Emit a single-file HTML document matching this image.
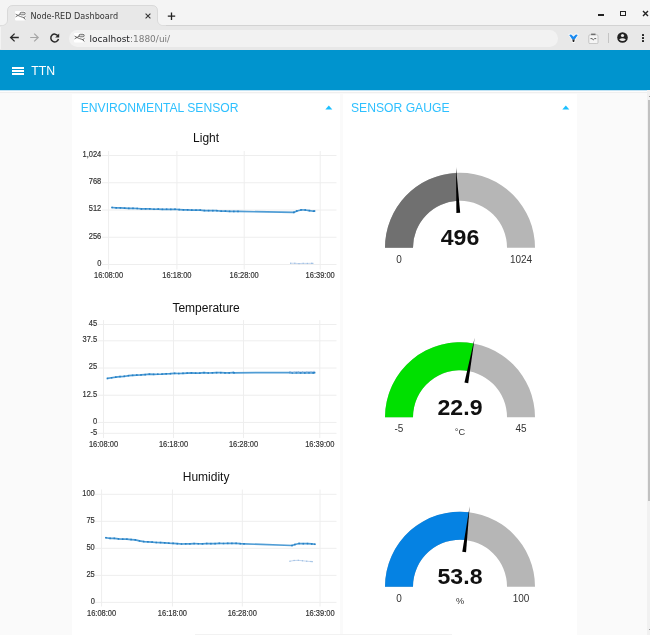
<!DOCTYPE html>
<html><head><meta charset="utf-8"><title>Node-RED Dashboard</title>
<style>
*{margin:0;padding:0;box-sizing:border-box}
html,body{width:650px;height:635px;overflow:hidden}
body{will-change:transform;background:#fafafa;font-family:"Liberation Sans",Arial,sans-serif;position:relative}
.a{position:absolute}
.dv{font-family:"DejaVu Sans","Liberation Sans",sans-serif}
</style></head><body>
<!-- tab strip -->
<div class="a" style="left:0;top:0;width:650px;height:25px;background:#f4f4f4"></div>
<div class="a" style="left:0;top:25px;width:650px;height:1px;background:#d3d3d3"></div>
<!-- toolbar -->
<div class="a" style="left:0;top:26px;width:650px;height:24px;background:#e8e8e8"></div>
<div class="a" style="left:0;top:26px;width:1px;height:23px;background:#f3f3f3"></div>
<!-- tab -->
<svg class="a" style="left:0;top:0" width="170" height="27" viewBox="0 0 170 27">
<path d="M0 26 C4 26 7.5 24 7.5 20 V11 Q7.5 5.5 13 5.5 H152 Q157.5 5.5 157.5 11 V20 C157.5 24 161 26 165 26" fill="#e8e8e8" stroke="#d3d3d3" stroke-width="0.8"/>
<path d="M0 25.6 H166 V27 H0Z" fill="#e8e8e8"/>
</svg>
<svg class="a" style="left:14.6px;top:11px" width="11" height="10" viewBox="0 0 11 10"><rect x="0" y="0" width="10.4" height="9.6" rx="1" fill="#fff"/><rect x="5" y="1.3" width="5.2" height="2.5" rx="1.25" fill="#d8d8d8" stroke="#6a6a6a" stroke-width="0.85"/><path d="M0.9 3.3 L3 4.4 L0.9 5.7 M3 4.4 Q4.3 4.3 5.1 3 M3.2 4.6 Q5.5 5.8 8.8 6.6 M8.8 6.6 L10.2 5.6 M8.8 6.6 L10 8.2" stroke="#6a6a6a" stroke-width="0.9" fill="none" stroke-linecap="round"/></svg>
<div class="a dv" style="left:30.4px;top:10.6px;font-size:8.12px;line-height:10px;color:#333;white-space:nowrap">Node-RED Dashboard</div>
<svg class="a" style="left:144px;top:12px" width="8" height="8" viewBox="0 0 8 8"><path d="M1.6 1.6 L6.4 6.4 M6.4 1.6 L1.6 6.4" stroke="#333" stroke-width="1.1"/></svg>
<svg class="a" style="left:167px;top:12px" width="9" height="9" viewBox="0 0 9 9"><path d="M4.5 0.5 V8 M0.8 4.2 H8.2" stroke="#222" stroke-width="1.3"/></svg>
<!-- window controls -->
<div class="a" style="left:598px;top:14.2px;width:6px;height:1.7px;background:#222"></div>
<div class="a" style="left:620px;top:10.5px;width:6.3px;height:5.6px;border:1.7px solid #222"></div>
<svg class="a" style="left:641.5px;top:10.3px" width="7" height="7" viewBox="0 0 7 7"><path d="M1 1 L6 6 M6 1 L1 6" stroke="#222" stroke-width="1.4"/></svg>
<!-- nav icons -->
<svg class="a" style="left:9px;top:32px" width="12" height="11" viewBox="0 0 12 11"><path d="M9.8 5.5 H2 M5.6 1.6 L1.6 5.5 L5.6 9.4" stroke="#2a2a2a" stroke-width="1.3" fill="none"/></svg>
<svg class="a" style="left:29px;top:32px" width="12" height="11" viewBox="0 0 12 11"><path d="M1.2 5.5 H9 M5.2 1.6 L9.2 5.5 L5.2 9.4" stroke="#a5a5a5" stroke-width="1.2" fill="none"/></svg>
<svg class="a" style="left:49px;top:32px" width="12" height="12" viewBox="0 0 12 12"><path d="M9 3.9 A3.9 3.9 0 1 0 9.5 7" stroke="#2a2a2a" stroke-width="1.5" fill="none"/><path d="M10.2 1.4 V5.4 H6.2 Z" fill="#2a2a2a"/></svg>
<!-- address bar -->
<div class="a" style="left:68.5px;top:29.5px;width:489px;height:17.3px;border-radius:9px;background:#f2f2f2"></div>
<svg class="a" style="left:74.4px;top:33.4px" width="11" height="10" viewBox="0 0 11 10"><rect x="0" y="0" width="10.4" height="9.6" rx="1" fill="#fff"/><rect x="5" y="1.3" width="5.2" height="2.5" rx="1.25" fill="#d8d8d8" stroke="#5a5a5a" stroke-width="0.85"/><path d="M0.9 3.3 L3 4.4 L0.9 5.7 M3 4.4 Q4.3 4.3 5.1 3 M3.2 4.6 Q5.5 5.8 8.8 6.6 M8.8 6.6 L10.2 5.6 M8.8 6.6 L10 8.2" stroke="#5a5a5a" stroke-width="0.9" fill="none" stroke-linecap="round"/></svg>
<div class="a dv" style="left:89.5px;top:33.9px;font-size:9px;line-height:11px;white-space:nowrap;color:#202124">localhost<span style="color:#7a7a7a">:1880/ui/</span></div>
<!-- right toolbar icons -->
<svg class="a" style="left:567.5px;top:33px" width="11" height="10" viewBox="0 0 11 10"><path d="M0.8 1.6 Q2 0.6 3.6 1.2 L5.5 3 L7.4 1.2 Q9 0.6 10.2 1.6 L6.9 6.8 L6.6 9.3 L4.4 9.3 L4.1 6.8 Z" fill="#fff" stroke="#fff" stroke-width="1" stroke-linejoin="round"/><path d="M1.2 1.9 Q2.2 1.1 3.5 1.7 L5.5 3.7 L7.5 1.7 Q8.8 1.1 9.8 1.9 L6.7 6.6 L4.3 6.6 Z" fill="#1a8af0"/><path d="M4.3 6.4 L6.7 6.4 L6.2 8.9 L4.8 8.9 Z" fill="#262626"/></svg>
<svg class="a" style="left:587.6px;top:32.5px" width="11" height="11" viewBox="0 0 11 11"><rect x="0.8" y="1.8" width="9.2" height="8.8" rx="1.2" fill="#f5f5f5" stroke="#b9b9b9" stroke-width="0.8"/><rect x="3.1" y="0.6" width="4.4" height="1.5" fill="#6e6e6e"/><path d="M2.5 5.6 H4 L5.3 6.8 L6.6 5.6 H8.2" stroke="#5e5e5e" stroke-width="1" fill="none"/></svg>
<div class="a" style="left:608px;top:33px;width:1px;height:10px;background:#c4c4c4"></div>
<svg class="a" style="left:617px;top:32.3px" width="11" height="11" viewBox="0 0 11 11"><circle cx="5.5" cy="5.5" r="5.3" fill="#222"/><circle cx="5.5" cy="3.5" r="1.6" fill="#e8e8e8"/><path d="M2.1 7.4 Q5.5 4.9 8.9 7.4 Q5.5 10.4 2.1 7.4Z" fill="#e8e8e8"/></svg>
<div class="a" style="left:641.8px;top:33.9px;width:1.9px;height:1.9px;background:#222;border-radius:0.5px"></div>
<div class="a" style="left:641.8px;top:36.8px;width:1.9px;height:1.9px;background:#222;border-radius:0.5px"></div>
<div class="a" style="left:641.8px;top:40.1px;width:1.9px;height:1.9px;background:#222;border-radius:0.5px"></div>
<!-- header -->
<div class="a" style="left:0;top:50px;width:650px;height:40px;background:#0094ce"></div>
<div class="a" style="left:0;top:89.8px;width:650px;height:1.2px;background:#bfe2f4"></div>
<div class="a" style="left:0;top:91px;width:650px;height:1px;background:#fdfdfd"></div>
<div class="a" style="left:0;top:92px;width:650px;height:1px;background:#efefef"></div>
<div class="a" style="left:12.4px;top:67.2px;width:11.3px;height:1.5px;background:#fff"></div>
<div class="a" style="left:12.4px;top:70.2px;width:11.3px;height:1.5px;background:#fff"></div>
<div class="a" style="left:12.4px;top:73.3px;width:11.3px;height:1.5px;background:#fff"></div>
<div class="a" style="left:31.2px;top:62.7px;font-size:12.3px;line-height:16px;color:#fff;white-space:nowrap">TTN</div>
<!-- groups -->
<div class="a" style="left:72px;top:94px;width:268px;height:545px;background:#fff"></div>
<div class="a" style="left:343px;top:94px;width:234px;height:545px;background:#fff"></div>
<div class="a" style="left:80.7px;top:101px;font-size:12.15px;line-height:14px;color:#2ec0ff;white-space:nowrap">ENVIRONMENTAL SENSOR</div>
<div class="a" style="left:351px;top:101px;font-size:12.15px;line-height:14px;color:#2ec0ff;white-space:nowrap">SENSOR GAUGE</div>
<svg class="a" style="left:324.5px;top:105px" width="8" height="5" viewBox="0 0 8 5"><path d="M0.3 4.6 L3.8 0.6 L7.3 4.6Z" fill="#1bbfff"/></svg>
<svg class="a" style="left:561.7px;top:105px" width="8" height="5" viewBox="0 0 8 5"><path d="M0.3 4.6 L3.8 0.6 L7.3 4.6Z" fill="#1bbfff"/></svg>
<div class="a" style="left:195px;top:633.5px;width:257px;height:1.5px;background:#f2f2f2"></div>
<!-- scrollbar -->
<div class="a" style="left:647px;top:90px;width:3px;height:545px;background:#f1f1f1"></div>
<div class="a" style="left:648px;top:100px;width:2px;height:401px;background:#c1c1c1"></div>
<div class="a" style="left:648.5px;top:95.5px;width:1.5px;height:1.5px;background:#999"></div>
<div class="a" style="left:648.5px;top:628.5px;width:1.5px;height:1.5px;background:#999"></div>
<svg class="a" style="left:0;top:0;font-family:'Liberation Sans',Arial,sans-serif" width="650" height="635" viewBox="0 0 650 635">
<text x="193.09" y="142.00" font-size="12" fill="#111" textLength="26.02" lengthAdjust="spacingAndGlyphs">Light</text>
<path d="M102 155.5H336.5 M102 182.75H336.5 M102 210H336.5 M102 237.25H336.5 M102 264.5H336.5 M108.6 151V269.5 M176.9 151V269.5 M244.2 151V269.5 M320.2 151V269.5" stroke="#eeeeee" stroke-width="1" fill="none"/>
<text x="82.53" y="156.90" font-size="9.5" fill="#333" textLength="18.77" lengthAdjust="spacingAndGlyphs" stroke="#333" stroke-width="0.2">1,024</text>
<text x="88.79" y="184.15" font-size="9.5" fill="#333" textLength="12.51" lengthAdjust="spacingAndGlyphs" stroke="#333" stroke-width="0.2">768</text>
<text x="88.79" y="211.40" font-size="9.5" fill="#333" textLength="12.51" lengthAdjust="spacingAndGlyphs" stroke="#333" stroke-width="0.2">512</text>
<text x="88.79" y="238.65" font-size="9.5" fill="#333" textLength="12.51" lengthAdjust="spacingAndGlyphs" stroke="#333" stroke-width="0.2">256</text>
<text x="97.13" y="265.90" font-size="9.5" fill="#333" textLength="4.17" lengthAdjust="spacingAndGlyphs" stroke="#333" stroke-width="0.2">0</text>
<text x="94.00" y="277.50" font-size="9.5" fill="#333" textLength="29.19" lengthAdjust="spacingAndGlyphs" stroke="#333" stroke-width="0.2">16:08:00</text>
<text x="162.30" y="277.50" font-size="9.5" fill="#333" textLength="29.19" lengthAdjust="spacingAndGlyphs" stroke="#333" stroke-width="0.2">16:18:00</text>
<text x="229.60" y="277.50" font-size="9.5" fill="#333" textLength="29.19" lengthAdjust="spacingAndGlyphs" stroke="#333" stroke-width="0.2">16:28:00</text>
<text x="305.60" y="277.50" font-size="9.5" fill="#333" textLength="29.19" lengthAdjust="spacingAndGlyphs" stroke="#333" stroke-width="0.2">16:39:00</text>
<path d="M112 207.5 L116.2 207.8 L120.4 207.91 L124.6 208.18 L128.8 208.37 L133 208.33 L137.2 208.49 L141.4 208.96 L145.6 208.8 L149.8 208.86 L154 209.23 L158.2 209.09 L162.4 209.31 L166.6 209.23 L170.8 209.37 L175 209.24 L179.2 209.57 L183.4 209.82 L187.6 209.84 L191.8 210.08 L196 210.2 L200.2 210.11 L204.4 210.55 L208.6 210.63 L212.8 210.67 L217 210.72 L221.2 211.21 L225.4 211.19 L229.6 211.34 L233.8 211.45 L238 211.43 L293.8 212.37 L296.8 211.05 L301 209.95 L305.2 210 L309.4 210.65 L313.6 211.22 L314.5 211.04" stroke="#2a87cc" stroke-opacity="0.82" stroke-width="1.7" fill="none" stroke-linejoin="round"/>
<rect x="111.2" y="206.7" width="1.6" height="1.6" fill="#2580c6"/>
<rect x="115.4" y="207" width="1.6" height="1.6" fill="#2580c6"/>
<rect x="119.6" y="207.11" width="1.6" height="1.6" fill="#2580c6"/>
<rect x="123.8" y="207.38" width="1.6" height="1.6" fill="#2580c6"/>
<rect x="128" y="207.57" width="1.6" height="1.6" fill="#2580c6"/>
<rect x="132.2" y="207.53" width="1.6" height="1.6" fill="#2580c6"/>
<rect x="136.4" y="207.69" width="1.6" height="1.6" fill="#2580c6"/>
<rect x="140.6" y="208.16" width="1.6" height="1.6" fill="#2580c6"/>
<rect x="144.8" y="208" width="1.6" height="1.6" fill="#2580c6"/>
<rect x="149" y="208.06" width="1.6" height="1.6" fill="#2580c6"/>
<rect x="153.2" y="208.43" width="1.6" height="1.6" fill="#2580c6"/>
<rect x="157.4" y="208.29" width="1.6" height="1.6" fill="#2580c6"/>
<rect x="161.6" y="208.51" width="1.6" height="1.6" fill="#2580c6"/>
<rect x="165.8" y="208.43" width="1.6" height="1.6" fill="#2580c6"/>
<rect x="170" y="208.57" width="1.6" height="1.6" fill="#2580c6"/>
<rect x="174.2" y="208.44" width="1.6" height="1.6" fill="#2580c6"/>
<rect x="178.4" y="208.77" width="1.6" height="1.6" fill="#2580c6"/>
<rect x="182.6" y="209.02" width="1.6" height="1.6" fill="#2580c6"/>
<rect x="186.8" y="209.04" width="1.6" height="1.6" fill="#2580c6"/>
<rect x="191" y="209.28" width="1.6" height="1.6" fill="#2580c6"/>
<rect x="195.2" y="209.4" width="1.6" height="1.6" fill="#2580c6"/>
<rect x="199.4" y="209.31" width="1.6" height="1.6" fill="#2580c6"/>
<rect x="203.6" y="209.75" width="1.6" height="1.6" fill="#2580c6"/>
<rect x="207.8" y="209.83" width="1.6" height="1.6" fill="#2580c6"/>
<rect x="212" y="209.87" width="1.6" height="1.6" fill="#2580c6"/>
<rect x="216.2" y="209.92" width="1.6" height="1.6" fill="#2580c6"/>
<rect x="220.4" y="210.41" width="1.6" height="1.6" fill="#2580c6"/>
<rect x="224.6" y="210.39" width="1.6" height="1.6" fill="#2580c6"/>
<rect x="228.8" y="210.54" width="1.6" height="1.6" fill="#2580c6"/>
<rect x="233" y="210.65" width="1.6" height="1.6" fill="#2580c6"/>
<rect x="237.2" y="210.63" width="1.6" height="1.6" fill="#2580c6"/>
<rect x="293" y="211.57" width="1.6" height="1.6" fill="#2580c6"/>
<rect x="296" y="210.25" width="1.6" height="1.6" fill="#2580c6"/>
<rect x="300.2" y="209.15" width="1.6" height="1.6" fill="#2580c6"/>
<rect x="304.4" y="209.2" width="1.6" height="1.6" fill="#2580c6"/>
<rect x="308.6" y="209.85" width="1.6" height="1.6" fill="#2580c6"/>
<rect x="312.8" y="210.42" width="1.6" height="1.6" fill="#2580c6"/>
<rect x="313.7" y="210.24" width="1.6" height="1.6" fill="#2580c6"/>
<path d="M290.6 263.25 L294.8 263.29 L299 263.59 L303.2 263.37 L307.4 263.45 L311.6 263.32 L312.8 263.4" stroke="#aec7e8" stroke-opacity="0.82" stroke-width="0.9" fill="none" stroke-linejoin="round"/>
<rect x="290" y="262.65" width="1.2" height="1.2" fill="#9dbfe2"/>
<rect x="294.2" y="262.69" width="1.2" height="1.2" fill="#9dbfe2"/>
<rect x="298.4" y="262.99" width="1.2" height="1.2" fill="#9dbfe2"/>
<rect x="302.6" y="262.77" width="1.2" height="1.2" fill="#9dbfe2"/>
<rect x="306.8" y="262.85" width="1.2" height="1.2" fill="#9dbfe2"/>
<rect x="311" y="262.72" width="1.2" height="1.2" fill="#9dbfe2"/>
<rect x="312.2" y="262.8" width="1.2" height="1.2" fill="#9dbfe2"/>
<text x="172.42" y="311.50" font-size="12" fill="#111" textLength="67.37" lengthAdjust="spacingAndGlyphs">Temperature</text>
<path d="M96.9 324.5H336.5 M96.9 340.82H336.5 M96.9 368.02H336.5 M96.9 395.22H336.5 M96.9 422.42H336.5 M96.9 433.3H336.5 M103.5 320.1V438 M173.5 320.1V438 M243.5 320.1V438 M319.8 320.1V438" stroke="#eeeeee" stroke-width="1" fill="none"/>
<text x="88.76" y="325.90" font-size="9.5" fill="#333" textLength="8.34" lengthAdjust="spacingAndGlyphs" stroke="#333" stroke-width="0.2">45</text>
<text x="82.50" y="342.22" font-size="9.5" fill="#333" textLength="14.60" lengthAdjust="spacingAndGlyphs" stroke="#333" stroke-width="0.2">37.5</text>
<text x="88.76" y="369.42" font-size="9.5" fill="#333" textLength="8.34" lengthAdjust="spacingAndGlyphs" stroke="#333" stroke-width="0.2">25</text>
<text x="82.50" y="396.62" font-size="9.5" fill="#333" textLength="14.60" lengthAdjust="spacingAndGlyphs" stroke="#333" stroke-width="0.2">12.5</text>
<text x="92.93" y="423.82" font-size="9.5" fill="#333" textLength="4.17" lengthAdjust="spacingAndGlyphs" stroke="#333" stroke-width="0.2">0</text>
<text x="90.43" y="434.70" font-size="9.5" fill="#333" textLength="6.67" lengthAdjust="spacingAndGlyphs" stroke="#333" stroke-width="0.2">-5</text>
<text x="88.90" y="446.60" font-size="9.5" fill="#333" textLength="29.19" lengthAdjust="spacingAndGlyphs" stroke="#333" stroke-width="0.2">16:08:00</text>
<text x="158.90" y="446.60" font-size="9.5" fill="#333" textLength="29.19" lengthAdjust="spacingAndGlyphs" stroke="#333" stroke-width="0.2">16:18:00</text>
<text x="228.90" y="446.60" font-size="9.5" fill="#333" textLength="29.19" lengthAdjust="spacingAndGlyphs" stroke="#333" stroke-width="0.2">16:28:00</text>
<text x="305.20" y="446.60" font-size="9.5" fill="#333" textLength="29.19" lengthAdjust="spacingAndGlyphs" stroke="#333" stroke-width="0.2">16:39:00</text>
<path d="M107.4 378.45 L111.6 377.76 L115.8 377.16 L120 376.64 L124.2 376.29 L128.4 375.72 L132.6 375.34 L136.8 375.07 L141 374.93 L145.2 374.6 L149.4 374.22 L153.6 374.35 L157.8 374.24 L162 374.07 L166.2 373.79 L170.4 373.7 L174.6 373.37 L178.8 373.52 L183 373.32 L187.2 373.1 L191.4 372.92 L195.6 373.14 L199.8 373.1 L204 372.71 L208.2 372.98 L212.4 372.8 L216.6 372.68 L220.8 372.71 L225 372.88 L229.2 372.9 L233.4 372.55 L234 372.78 L290 372.52 L292.2 372.79 L296.4 372.63 L300.6 372.85 L304.8 372.89 L309 372.7 L313.2 372.9 L314.6 372.62" stroke="#2a87cc" stroke-opacity="0.82" stroke-width="1.7" fill="none" stroke-linejoin="round"/>
<rect x="106.6" y="377.65" width="1.6" height="1.6" fill="#2580c6"/>
<rect x="110.8" y="376.96" width="1.6" height="1.6" fill="#2580c6"/>
<rect x="115" y="376.36" width="1.6" height="1.6" fill="#2580c6"/>
<rect x="119.2" y="375.84" width="1.6" height="1.6" fill="#2580c6"/>
<rect x="123.4" y="375.49" width="1.6" height="1.6" fill="#2580c6"/>
<rect x="127.6" y="374.92" width="1.6" height="1.6" fill="#2580c6"/>
<rect x="131.8" y="374.54" width="1.6" height="1.6" fill="#2580c6"/>
<rect x="136" y="374.27" width="1.6" height="1.6" fill="#2580c6"/>
<rect x="140.2" y="374.13" width="1.6" height="1.6" fill="#2580c6"/>
<rect x="144.4" y="373.8" width="1.6" height="1.6" fill="#2580c6"/>
<rect x="148.6" y="373.42" width="1.6" height="1.6" fill="#2580c6"/>
<rect x="152.8" y="373.55" width="1.6" height="1.6" fill="#2580c6"/>
<rect x="157" y="373.44" width="1.6" height="1.6" fill="#2580c6"/>
<rect x="161.2" y="373.27" width="1.6" height="1.6" fill="#2580c6"/>
<rect x="165.4" y="372.99" width="1.6" height="1.6" fill="#2580c6"/>
<rect x="169.6" y="372.9" width="1.6" height="1.6" fill="#2580c6"/>
<rect x="173.8" y="372.57" width="1.6" height="1.6" fill="#2580c6"/>
<rect x="178" y="372.72" width="1.6" height="1.6" fill="#2580c6"/>
<rect x="182.2" y="372.52" width="1.6" height="1.6" fill="#2580c6"/>
<rect x="186.4" y="372.3" width="1.6" height="1.6" fill="#2580c6"/>
<rect x="190.6" y="372.12" width="1.6" height="1.6" fill="#2580c6"/>
<rect x="194.8" y="372.34" width="1.6" height="1.6" fill="#2580c6"/>
<rect x="199" y="372.3" width="1.6" height="1.6" fill="#2580c6"/>
<rect x="203.2" y="371.91" width="1.6" height="1.6" fill="#2580c6"/>
<rect x="207.4" y="372.18" width="1.6" height="1.6" fill="#2580c6"/>
<rect x="211.6" y="372" width="1.6" height="1.6" fill="#2580c6"/>
<rect x="215.8" y="371.88" width="1.6" height="1.6" fill="#2580c6"/>
<rect x="220" y="371.91" width="1.6" height="1.6" fill="#2580c6"/>
<rect x="224.2" y="372.08" width="1.6" height="1.6" fill="#2580c6"/>
<rect x="228.4" y="372.1" width="1.6" height="1.6" fill="#2580c6"/>
<rect x="232.6" y="371.75" width="1.6" height="1.6" fill="#2580c6"/>
<rect x="233.2" y="371.98" width="1.6" height="1.6" fill="#2580c6"/>
<rect x="289.2" y="371.72" width="1.6" height="1.6" fill="#2580c6"/>
<rect x="291.4" y="371.99" width="1.6" height="1.6" fill="#2580c6"/>
<rect x="295.6" y="371.83" width="1.6" height="1.6" fill="#2580c6"/>
<rect x="299.8" y="372.05" width="1.6" height="1.6" fill="#2580c6"/>
<rect x="304" y="372.09" width="1.6" height="1.6" fill="#2580c6"/>
<rect x="308.2" y="371.9" width="1.6" height="1.6" fill="#2580c6"/>
<rect x="312.4" y="372.1" width="1.6" height="1.6" fill="#2580c6"/>
<rect x="313.8" y="371.82" width="1.6" height="1.6" fill="#2580c6"/>
<path d="M290 371.83 L294.2 371.97 L298.4 371.67 L302.6 371.67 L306.8 371.68 L311 371.69 L314 371.46" stroke="#aec7e8" stroke-opacity="0.82" stroke-width="0.9" fill="none" stroke-linejoin="round"/>
<rect x="289.4" y="371.23" width="1.2" height="1.2" fill="#9dbfe2"/>
<rect x="293.6" y="371.37" width="1.2" height="1.2" fill="#9dbfe2"/>
<rect x="297.8" y="371.07" width="1.2" height="1.2" fill="#9dbfe2"/>
<rect x="302" y="371.07" width="1.2" height="1.2" fill="#9dbfe2"/>
<rect x="306.2" y="371.08" width="1.2" height="1.2" fill="#9dbfe2"/>
<rect x="310.4" y="371.09" width="1.2" height="1.2" fill="#9dbfe2"/>
<rect x="313.4" y="370.86" width="1.2" height="1.2" fill="#9dbfe2"/>
<text x="182.76" y="481.00" font-size="12" fill="#111" textLength="46.68" lengthAdjust="spacingAndGlyphs">Humidity</text>
<path d="M95 494.3H336.5 M95 521.32H336.5 M95 548.34H336.5 M95 575.36H336.5 M95 602.38H336.5 M101.6 489.5V606.5 M172.4 489.5V606.5 M242.3 489.5V606.5 M320 489.5V606.5" stroke="#eeeeee" stroke-width="1" fill="none"/>
<text x="82.29" y="495.70" font-size="9.5" fill="#333" textLength="12.51" lengthAdjust="spacingAndGlyphs" stroke="#333" stroke-width="0.2">100</text>
<text x="86.46" y="522.72" font-size="9.5" fill="#333" textLength="8.34" lengthAdjust="spacingAndGlyphs" stroke="#333" stroke-width="0.2">75</text>
<text x="86.46" y="549.74" font-size="9.5" fill="#333" textLength="8.34" lengthAdjust="spacingAndGlyphs" stroke="#333" stroke-width="0.2">50</text>
<text x="86.46" y="576.76" font-size="9.5" fill="#333" textLength="8.34" lengthAdjust="spacingAndGlyphs" stroke="#333" stroke-width="0.2">25</text>
<text x="90.63" y="603.78" font-size="9.5" fill="#333" textLength="4.17" lengthAdjust="spacingAndGlyphs" stroke="#333" stroke-width="0.2">0</text>
<text x="87.00" y="615.90" font-size="9.5" fill="#333" textLength="29.19" lengthAdjust="spacingAndGlyphs" stroke="#333" stroke-width="0.2">16:08:00</text>
<text x="157.80" y="615.90" font-size="9.5" fill="#333" textLength="29.19" lengthAdjust="spacingAndGlyphs" stroke="#333" stroke-width="0.2">16:18:00</text>
<text x="227.70" y="615.90" font-size="9.5" fill="#333" textLength="29.19" lengthAdjust="spacingAndGlyphs" stroke="#333" stroke-width="0.2">16:28:00</text>
<text x="305.40" y="615.90" font-size="9.5" fill="#333" textLength="29.19" lengthAdjust="spacingAndGlyphs" stroke="#333" stroke-width="0.2">16:39:00</text>
<path d="M105.9 537.72 L110.1 538.32 L114.3 538.37 L118.5 538.91 L122.7 539.16 L126.9 539.22 L131.1 539.53 L135.3 539.88 L139.5 540.9 L143.7 541.55 L147.9 541.8 L152.1 542.09 L156.3 542.49 L160.5 542.58 L164.7 542.81 L168.9 543.19 L173.1 543.37 L177.3 543.72 L181.5 543.99 L185.7 543.81 L189.9 543.82 L194.1 543.6 L198.3 543.77 L202.5 543.79 L206.7 543.51 L210.9 543.68 L215.1 543.62 L219.3 543.33 L223.5 543.49 L227.7 543.37 L231.9 543.39 L236.1 543.37 L240.3 543.68 L244 543.84 L292 545.51 L294.9 544.54 L299.1 543.48 L303.3 543.71 L307.5 543.6 L311.7 543.97 L314.9 544.24" stroke="#2a87cc" stroke-opacity="0.82" stroke-width="1.7" fill="none" stroke-linejoin="round"/>
<rect x="105.1" y="536.92" width="1.6" height="1.6" fill="#2580c6"/>
<rect x="109.3" y="537.52" width="1.6" height="1.6" fill="#2580c6"/>
<rect x="113.5" y="537.57" width="1.6" height="1.6" fill="#2580c6"/>
<rect x="117.7" y="538.11" width="1.6" height="1.6" fill="#2580c6"/>
<rect x="121.9" y="538.36" width="1.6" height="1.6" fill="#2580c6"/>
<rect x="126.1" y="538.42" width="1.6" height="1.6" fill="#2580c6"/>
<rect x="130.3" y="538.73" width="1.6" height="1.6" fill="#2580c6"/>
<rect x="134.5" y="539.08" width="1.6" height="1.6" fill="#2580c6"/>
<rect x="138.7" y="540.1" width="1.6" height="1.6" fill="#2580c6"/>
<rect x="142.9" y="540.75" width="1.6" height="1.6" fill="#2580c6"/>
<rect x="147.1" y="541" width="1.6" height="1.6" fill="#2580c6"/>
<rect x="151.3" y="541.29" width="1.6" height="1.6" fill="#2580c6"/>
<rect x="155.5" y="541.69" width="1.6" height="1.6" fill="#2580c6"/>
<rect x="159.7" y="541.78" width="1.6" height="1.6" fill="#2580c6"/>
<rect x="163.9" y="542.01" width="1.6" height="1.6" fill="#2580c6"/>
<rect x="168.1" y="542.39" width="1.6" height="1.6" fill="#2580c6"/>
<rect x="172.3" y="542.57" width="1.6" height="1.6" fill="#2580c6"/>
<rect x="176.5" y="542.92" width="1.6" height="1.6" fill="#2580c6"/>
<rect x="180.7" y="543.19" width="1.6" height="1.6" fill="#2580c6"/>
<rect x="184.9" y="543.01" width="1.6" height="1.6" fill="#2580c6"/>
<rect x="189.1" y="543.02" width="1.6" height="1.6" fill="#2580c6"/>
<rect x="193.3" y="542.8" width="1.6" height="1.6" fill="#2580c6"/>
<rect x="197.5" y="542.97" width="1.6" height="1.6" fill="#2580c6"/>
<rect x="201.7" y="542.99" width="1.6" height="1.6" fill="#2580c6"/>
<rect x="205.9" y="542.71" width="1.6" height="1.6" fill="#2580c6"/>
<rect x="210.1" y="542.88" width="1.6" height="1.6" fill="#2580c6"/>
<rect x="214.3" y="542.82" width="1.6" height="1.6" fill="#2580c6"/>
<rect x="218.5" y="542.53" width="1.6" height="1.6" fill="#2580c6"/>
<rect x="222.7" y="542.69" width="1.6" height="1.6" fill="#2580c6"/>
<rect x="226.9" y="542.57" width="1.6" height="1.6" fill="#2580c6"/>
<rect x="231.1" y="542.59" width="1.6" height="1.6" fill="#2580c6"/>
<rect x="235.3" y="542.57" width="1.6" height="1.6" fill="#2580c6"/>
<rect x="239.5" y="542.88" width="1.6" height="1.6" fill="#2580c6"/>
<rect x="243.2" y="543.04" width="1.6" height="1.6" fill="#2580c6"/>
<rect x="291.2" y="544.71" width="1.6" height="1.6" fill="#2580c6"/>
<rect x="294.1" y="543.74" width="1.6" height="1.6" fill="#2580c6"/>
<rect x="298.3" y="542.68" width="1.6" height="1.6" fill="#2580c6"/>
<rect x="302.5" y="542.91" width="1.6" height="1.6" fill="#2580c6"/>
<rect x="306.7" y="542.8" width="1.6" height="1.6" fill="#2580c6"/>
<rect x="310.9" y="543.17" width="1.6" height="1.6" fill="#2580c6"/>
<rect x="314.1" y="543.44" width="1.6" height="1.6" fill="#2580c6"/>
<path d="M289.9 561.23 L294.1 560.49 L298.3 560.34 L302.5 560.75 L306.7 561.23 L310.9 561.5 L312.2 561.65" stroke="#aec7e8" stroke-opacity="0.82" stroke-width="0.9" fill="none" stroke-linejoin="round"/>
<rect x="289.3" y="560.63" width="1.2" height="1.2" fill="#9dbfe2"/>
<rect x="293.5" y="559.89" width="1.2" height="1.2" fill="#9dbfe2"/>
<rect x="297.7" y="559.74" width="1.2" height="1.2" fill="#9dbfe2"/>
<rect x="301.9" y="560.15" width="1.2" height="1.2" fill="#9dbfe2"/>
<rect x="306.1" y="560.63" width="1.2" height="1.2" fill="#9dbfe2"/>
<rect x="310.3" y="560.9" width="1.2" height="1.2" fill="#9dbfe2"/>
<rect x="311.6" y="561.05" width="1.2" height="1.2" fill="#9dbfe2"/>
<path d="M385 247.8 A75 75 0 0 1 535 247.8 L507 247.8 A47 47 0 0 0 413 247.8Z" fill="#b6b6b6"/>
<path d="M385 247.8 A75 75 0 0 1 456.32 172.89 L457.69 200.86 A47 47 0 0 0 413 247.8Z" fill="#707070"/>
<path d="M460.18 212.75 L456.03 166.9 L456.38 212.94Z" fill="#000"/>
<text x="440.73" y="245.40" font-size="21.9" fill="#111" font-weight="bold" textLength="38.54" lengthAdjust="spacingAndGlyphs">496</text>
<text x="396.22" y="262.80" font-size="10.2" fill="#333" textLength="5.56" lengthAdjust="spacingAndGlyphs">0</text>
<text x="509.88" y="262.80" font-size="10.2" fill="#333" textLength="22.25" lengthAdjust="spacingAndGlyphs">1024</text>
<path d="M385 417.3 A75 75 0 0 1 535 417.3 L507 417.3 A47 47 0 0 0 413 417.3Z" fill="#b6b6b6"/>
<path d="M385 417.3 A75 75 0 0 1 473.59 343.54 L468.52 371.08 A47 47 0 0 0 413 417.3Z" fill="#00e000"/>
<path d="M468.21 383.22 L474.68 337.64 L464.47 382.54Z" fill="#000"/>
<text x="437.52" y="414.90" font-size="21.9" fill="#111" font-weight="bold" textLength="44.96" lengthAdjust="spacingAndGlyphs">22.9</text>
<text x="394.55" y="432.30" font-size="10.2" fill="#333" textLength="8.89" lengthAdjust="spacingAndGlyphs">-5</text>
<text x="515.44" y="432.30" font-size="10.2" fill="#333" textLength="11.12" lengthAdjust="spacingAndGlyphs">45</text>
<text x="460" y="434.8" font-size="9.2" fill="#333" text-anchor="middle">°C</text>
<path d="M385 586.7 A75 75 0 0 1 535 586.7 L507 586.7 A47 47 0 0 0 413 586.7Z" fill="#b6b6b6"/>
<path d="M385 586.7 A75 75 0 0 1 468.93 512.23 L465.6 540.03 A47 47 0 0 0 413 586.7Z" fill="#0582e3"/>
<path d="M466.05 552.18 L469.65 506.28 L462.28 551.72Z" fill="#000"/>
<text x="437.52" y="584.30" font-size="21.9" fill="#111" font-weight="bold" textLength="44.96" lengthAdjust="spacingAndGlyphs">53.8</text>
<text x="396.22" y="601.70" font-size="10.2" fill="#333" textLength="5.56" lengthAdjust="spacingAndGlyphs">0</text>
<text x="512.66" y="601.70" font-size="10.2" fill="#333" textLength="16.68" lengthAdjust="spacingAndGlyphs">100</text>
<text x="460" y="604.2" font-size="9.2" fill="#333" text-anchor="middle">%</text>
</svg>
</body></html>
